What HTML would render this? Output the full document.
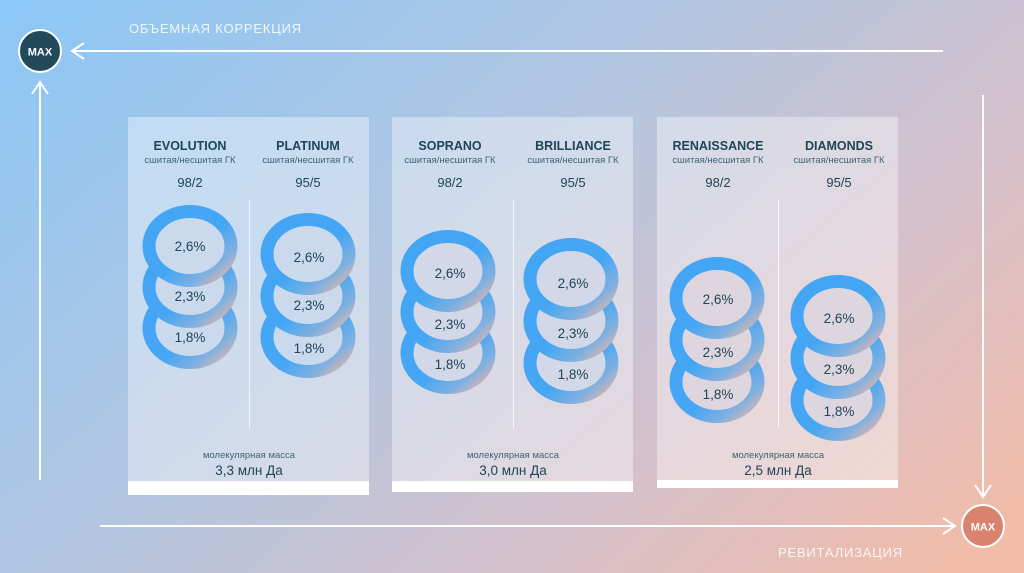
<!DOCTYPE html>
<html><head><meta charset="utf-8"><style>
html,body{margin:0;padding:0;width:1024px;height:573px;overflow:hidden}
svg{display:block;font-family:"Liberation Sans",sans-serif}
</style></head><body>
<svg width="1024" height="573" viewBox="0 0 1024 573" xmlns="http://www.w3.org/2000/svg">
<defs>
<linearGradient id="bg" gradientUnits="userSpaceOnUse" x1="0" y1="0" x2="700" y2="800">
<stop offset="0" stop-color="#8bc7f6"/>
<stop offset="0.45" stop-color="#b4c6e0"/>
<stop offset="0.75" stop-color="#d8c0c8"/>
<stop offset="1" stop-color="#f2bca8"/>
</linearGradient>
<linearGradient id="rg" x1="0" y1="0" x2="1" y2="1">
<stop offset="0" stop-color="#42a5f5"/>
<stop offset="0.55" stop-color="#45a6f3"/>
<stop offset="0.8" stop-color="#80b0e0"/>
<stop offset="1" stop-color="#f2b6a2"/>
</linearGradient>
<ellipse id="r1" rx="41" ry="34.5" fill="#cadaec" stroke="url(#rg)" stroke-width="13"/>
<ellipse id="r2" rx="41" ry="34.5" fill="#d2d8e7" stroke="url(#rg)" stroke-width="13"/>
<ellipse id="r3" rx="41" ry="34.5" fill="#ddd6df" stroke="url(#rg)" stroke-width="13"/>
</defs>
<rect width="1024" height="573" fill="url(#bg)"/>
<rect x="128" y="117" width="241" height="378" fill="#fff" fill-opacity="0.38"/>
<rect x="128" y="481" width="241" height="14" fill="#fff"/>
<rect x="392" y="117" width="241" height="375" fill="#fff" fill-opacity="0.38"/>
<rect x="392" y="481" width="241" height="11" fill="#fff"/>
<rect x="657" y="117" width="241" height="371" fill="#fff" fill-opacity="0.38"/>
<rect x="657" y="480" width="241" height="8" fill="#fff"/>
<g stroke="#fff" stroke-opacity="0.8" stroke-width="1">
<line x1="249.5" y1="200" x2="249.5" y2="428"/>
<line x1="513.5" y1="200" x2="513.5" y2="428"/>
<line x1="778.5" y1="200" x2="778.5" y2="428"/>
</g>
<g fill="#1f4556" text-anchor="middle">
<g font-weight="bold" font-size="12.5">
<text x="190" y="150">EVOLUTION</text><text x="308" y="150">PLATINUM</text>
<text x="450" y="150">SOPRANO</text><text x="573" y="150">BRILLIANCE</text>
<text x="718" y="150">RENAISSANCE</text><text x="839" y="150">DIAMONDS</text>
</g>
<g font-size="9.5" fill="#3d6373">
<text x="190" y="163">сшитая/несшитая ГК</text><text x="308" y="163">сшитая/несшитая ГК</text>
<text x="450" y="163">сшитая/несшитая ГК</text><text x="573" y="163">сшитая/несшитая ГК</text>
<text x="718" y="163">сшитая/несшитая ГК</text><text x="839" y="163">сшитая/несшитая ГК</text>
</g>
<g font-size="13">
<text x="190" y="187">98/2</text><text x="308" y="187">95/5</text>
<text x="450" y="187">98/2</text><text x="573" y="187">95/5</text>
<text x="718" y="187">98/2</text><text x="839" y="187">95/5</text>
</g>
<g font-size="9.5" fill="#3d6373">
<text x="249" y="458">молекулярная масса</text>
<text x="513" y="458">молекулярная масса</text>
<text x="778" y="458">молекулярная масса</text>
</g>
<g font-size="13.5">
<text x="249" y="475">3,3 млн Да</text>
<text x="513" y="475">3,0 млн Да</text>
<text x="778" y="475">2,5 млн Да</text>
</g>
</g>
<use href="#r1" x="190" y="328"/><use href="#r1" x="190" y="287"/><use href="#r1" x="190" y="246"/>
<use href="#r1" x="308" y="337"/><use href="#r1" x="308" y="296"/><use href="#r1" x="308" y="254"/>
<use href="#r2" x="448" y="353"/><use href="#r2" x="448" y="312"/><use href="#r2" x="448" y="271"/>
<use href="#r2" x="571" y="363"/><use href="#r2" x="571" y="321"/><use href="#r2" x="571" y="279"/>
<use href="#r3" x="717" y="382"/><use href="#r3" x="717" y="340"/><use href="#r3" x="717" y="298"/>
<use href="#r3" x="838" y="400"/><use href="#r3" x="838" y="358"/><use href="#r3" x="838" y="316"/>
<g fill="#1f4556" font-size="13.5" text-anchor="middle">
<text x="190" y="251">2,6%</text><text x="190" y="301">2,3%</text><text x="190" y="342">1,8%</text>
<text x="309" y="262">2,6%</text><text x="309" y="310">2,3%</text><text x="309" y="353">1,8%</text>
<text x="450" y="278">2,6%</text><text x="450" y="329">2,3%</text><text x="450" y="369">1,8%</text>
<text x="573" y="288">2,6%</text><text x="573" y="338">2,3%</text><text x="573" y="379">1,8%</text>
<text x="718" y="304">2,6%</text><text x="718" y="357">2,3%</text><text x="718" y="399">1,8%</text>
<text x="839" y="323">2,6%</text><text x="839" y="374">2,3%</text><text x="839" y="416">1,8%</text>
</g>
<g stroke="#fff" stroke-width="2" fill="none">
<line x1="72" y1="51" x2="943" y2="51"/>
<polyline points="84,43 72,51 84,59"/>
<line x1="40" y1="82" x2="40" y2="480"/>
<polyline points="32,94 40,82 48,94"/>
<line x1="983" y1="95" x2="983" y2="497"/>
<polyline points="975,485 983,497 991,485"/>
<line x1="100" y1="526" x2="955" y2="526"/>
<polyline points="943,518 955,526 943,534"/>
</g>
<circle cx="40" cy="51" r="21" fill="#224a5a" stroke="#fff" stroke-width="2"/>
<text x="40" y="55.5" fill="#fff" font-weight="bold" font-size="11" text-anchor="middle">MAX</text>
<circle cx="983" cy="526" r="21" fill="#d9826e" stroke="#fff" stroke-width="2"/>
<text x="983" y="530.5" fill="#fff" font-weight="bold" font-size="11" text-anchor="middle">MAX</text>
<text x="129" y="33" fill="#fff" fill-opacity="0.85" font-size="13" letter-spacing="0.8">ОБЪЕМНАЯ КОРРЕКЦИЯ</text>
<text x="778" y="557" fill="#fff" fill-opacity="0.85" font-size="13" letter-spacing="0.8">РЕВИТАЛИЗАЦИЯ</text>
</svg>
</body></html>
